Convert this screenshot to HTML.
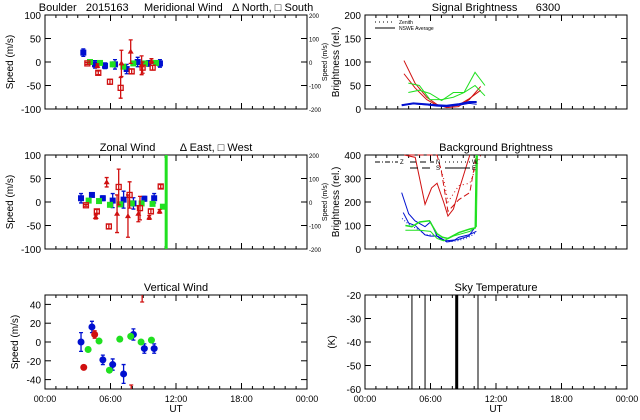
<!DOCTYPE html>
<html><head><meta charset="utf-8">
<style>
html,body{margin:0;padding:0;background:#fff;}
svg{display:block;font-family:"Liberation Sans",sans-serif;}
svg text{white-space:pre;}
</style></head>
<body>
<svg id="chart" width="640" height="420" viewBox="0 0 640 420" xmlns="http://www.w3.org/2000/svg" xml:space="preserve"></svg>
<script>
// ---- Data ----
const timeTicks = ["00:00","06:00","12:00","18:00","00:00"];
const merBlueT = [3.51,4.58,5.5,6.41,7.48,8.49,9.46,10.53];
const merBlueV = [20,-5,-8,-5,-15,0,-3,-3];
const merBlueE = [8,8,6,10,10,10,6,8];
const merGreenT = [4.12,5.04,6.2,7.17,8.09,9.16,10.17];
const merGreenV = [0,-2,-5,-10,-3,-3,-2];
const merRedSqT = [3.88,4.88,5.95,6.93,7.94,8.94,9.86];
const merRedSqV = [-3,-23,-42,-55,-20,-12,-12];
const merRedSqE = [2,4,5,22,5,12,5];
const merRedTrT = [4.8,7.0,7.85,8.85,9.75];
const merRedTrV = [-8,-3,22,-7,2];
const merRedTrE = [4,28,25,20,5];

const zonBlueT = [3.3,4.3,5.3,6.2,7.2,8.1,9.1,10.0];
const zonBlueV = [8,15,8,3,5,-3,7,8];
const zonBlueE = [10,4,5,15,18,12,5,10];
const zonGreenT = [4.0,4.95,5.95,6.9,7.95,8.85,9.85,10.8];
const zonGreenV = [3,2,-6,-5,-3,-3,-4,-10];
const zonRedSqT = [3.75,4.75,5.85,6.75,7.75,8.7,9.7,10.6];
const zonRedSqV = [-7,-20,-52,32,15,-13,-20,33];
const zonRedSqE = [2,4,5,38,28,25,5,4];
const zonRedTrT = [4.65,5.65,6.6,7.6,8.55,9.55,10.5];
const zonRedTrV = [-32,42,-25,-30,-25,-33,-20];
const zonRedTrE = [4,10,40,45,17,4,4];
const zonGreenLineT = [11.1];

const verBlueT = [3.3,4.3,5.3,6.2,7.2,8.1,9.1,10.0];
const verBlueV = [0,16,-19,-24,-34,8,-7,-7];
const verBlueE = [10,6,5,6,10,6,5,5];
const verRedT = [3.55,4.55];
const verRedV = [-27,8];
const verRedE = [1,4];
const verGreenT = [3.95,4.95,5.9,6.85,7.85,8.8,9.75];
const verGreenV = [-8,1,-30,3,6,0,2];

const sigT = [3.57,4.58,5.65,6.57,7.48,8.55,9.55,10.6];
const sigRed1 = [103,55,25,10,3,5,20,48];
const sigRed2 = [75,45,20,8,5,8,22,40];
const sigGT = [3.97,4.98,5.95,7.02,8.09,9.07,10.08,10.99];
const sigGreen1 = [35,40,33,18,35,35,78,50];
const sigGreen2 = [55,50,20,20,25,35,50,28];
const sigBT = [3.36,4.43,5.5,6.57,7.48,8.55,9.55,10.23];
const sigBlue1 = [8,12,10,8,7,10,15,15];
const sigBlue2 = [9,11,9,6,5,8,12,10];

const bgBlue1T = [3.36,4.0,4.58,5.5,6.0,6.6,7.0,7.5,8.1,8.6,9.5,10.2];
const bgBlue1 = [240,150,120,95,115,55,45,30,35,50,60,75];
const bgBlue2T = [3.5,4.0,4.6,5.5,6.0,6.6,7.0,7.5,8.5,9.5,10.2];
const bgBlue2 = [155,110,100,60,55,55,40,35,40,55,100];
const bgBlue3T = [3.4,4.0,5.0,5.5,6.5,7.5,8.5,9.5,10.2];
const bgBlue3 = [130,105,80,60,60,30,35,50,70];
const bgRed1T = [3.6,4.6,5.5,6.1,6.6,7.2,7.6,8.1,8.6,9.6];
const bgRed1 = [400,390,190,260,280,200,140,170,250,400];
const bgRed2T = [4.0,5.2,6.0,6.6,7.0,7.6,8.6,9.6,10.2];
const bgRed2 = [400,400,400,400,330,160,210,240,400];
const bgRed3T = [6.6,7.2,7.6,8.6,9.6,10.2,10.6];
const bgRed3 = [400,300,200,270,280,350,400];
const bgGreen1T = [3.7,4.3,5.0,5.9,6.6,7.1,7.6,8.6,9.6,10.1,10.2];
const bgGreen1 = [100,95,115,120,65,50,45,70,85,90,400];
const bgGreen2T = [3.7,4.3,5.0,6.0,6.6,7.2,8.1,9.6,10.2,10.3];
const bgGreen2 = [80,80,80,75,45,35,55,75,95,400];

const skyLineT = [4.3,5.5,8.4,10.35];
const skyLineW = [1,1,3,1];

// ---- Drawing ----
const svg = document.getElementById('chart');
const NS = 'http://www.w3.org/2000/svg';
function el(tag, attrs, parent){
  const e = document.createElementNS(NS, tag);
  for (const k in attrs) e.setAttribute(k, attrs[k]);
  (parent||svg).appendChild(e);
  return e;
}
function txt(x,y,s,size,anchor,parent,rot){
  const t = el('text',{x:x,y:y,'font-size':size,'text-anchor':anchor||'middle',fill:'#000'},parent);
  if (rot) t.setAttribute('transform','rotate(-90 '+x+' '+y+')');
  t.textContent = s;
  return t;
}
function panel(name, L, R, T, B, ymin, ymax, yticks, title, ytitle, xlabels, right, ytOff){
  const g = el('g',{});
  
  
  const sx = h => L + (h/24)*(R-L);
  const sy = v => B - (v-ymin)/(ymax-ymin)*(B-T);
  el('rect',{x:L,y:T,width:R-L,height:B-T,fill:'none',stroke:'#000','stroke-width':1},g);
  for (let h=0; h<=24; h++){
    const len = h%6===0 ? 6 : 3;
    el('line',{x1:sx(h),x2:sx(h),y1:B,y2:B-len,stroke:'#000'},g);
    el('line',{x1:sx(h),x2:sx(h),y1:T,y2:T+len,stroke:'#000'},g);
  }
  yticks.forEach(v=>{
    el('line',{x1:L,x2:L+6,y1:sy(v),y2:sy(v),stroke:'#000'},g);
    el('line',{x1:R,x2:R-6,y1:sy(v),y2:sy(v),stroke:'#000'},g);
    const lab = txt(L-4,sy(v)+4,String(v),10,'end',g);
    
    
  });
  const tt = txt((L+R)/2,T-4,title,11,'middle',g);
  
  
  const yt = txt(L-ytOff,(T+B)/2,ytitle,10,'middle',g,true);
  
  
  if (xlabels){
    timeTicks.forEach((s,i)=>{
      const xl = txt(sx(i*6),B+13,s,9,'middle',g);
      
      
    });
    const ut = txt((L+R)/2,B+23,'UT',10,'middle',g);
    
    
  }
  if (right){
    [200,100,0,-100,-200].forEach(v=>{
      const yy = B - (v+200)/400*(B-T);
      const r = txt(R+2,yy+3,String(v),6,'start',g);
      
      
    });
    const rt = txt(R+20,(T+B)/2,'Speed (m/s)',7,'middle',g,true);
    
    
  }
  return {g,sx,sy,T,B};
}
function points(p, T_, V_, E_, color, shape, name){
  T_.forEach((t,i)=>{
    const x = p.sx(t), y = p.sy(V_[i]);
    if (E_){
      const e = E_[i];
      const y1 = Math.max(p.T, p.sy(V_[i]+e)), y2 = Math.min(p.B, p.sy(V_[i]-e));
      const eb = el('path',{d:`M${x},${y1}V${y2}M${x-2},${y1}H${x+2}M${x-2},${y2}H${x+2}`,stroke:color,'stroke-width':1.3,fill:'none'},p.g);
      
      
    }
    let m;
    if (shape==='sq') m = el('rect',{x:x-2.5,y:y-2.5,width:5,height:5,fill:'none',stroke:color,'stroke-width':1.3},p.g);
    else if (shape==='fsq') m = el('rect',{x:x-3,y:y-3,width:6,height:6,fill:color},p.g);
    else if (shape==='tri') m = el('path',{d:`M${x},${y-3}L${x+3},${y+2}L${x-3},${y+2}Z`,fill:color},p.g);
    else m = el('circle',{cx:x,cy:y,r:3.5,fill:color},p.g);
    
    
  });
}
function line(p, T_, V_, color, name, dash, w){
  const pts = T_.map((t,i)=>p.sx(t)+','+Math.max(p.T,Math.min(p.B,p.sy(V_[i])))).join(' ');
  const l = el('polyline',{points:pts,fill:'none',stroke:color,'stroke-width':w||1},p.g);
  if (dash) l.setAttribute('stroke-dasharray',dash);
  
  
}
const RED='#d01010', BLUE='#0010d0', GREEN='#20e020';

// Meridional
const p1 = panel('meridional-wind-panel',45,307,15,109,-100,100,[100,50,0,-50,-100],
  'Boulder   2015163     Meridional Wind   \u0394 North, \u25A1 South','Speed (m/s)',false,true,32);
points(p1,merBlueT,merBlueV,merBlueE,BLUE,'fsq','meridional-blue-point');
points(p1,merGreenT,merGreenV,null,GREEN,'fsq','meridional-green-point');
points(p1,merRedSqT,merRedSqV,merRedSqE,RED,'sq','meridional-red-south');
points(p1,merRedTrT,merRedTrV,merRedTrE,RED,'tri','meridional-red-north');

// Zonal
const p2 = panel('zonal-wind-panel',45,307,155,249,-100,100,[100,50,0,-50,-100],
  'Zonal Wind        \u0394 East, \u25A1 West','Speed (m/s)',false,true,32);
zonGreenLineT.forEach(t=>{
  const gl = el('line',{x1:p2.sx(t),x2:p2.sx(t),y1:155,y2:249,stroke:GREEN,'stroke-width':3},p2.g);
  
  
});
points(p2,zonBlueT,zonBlueV,zonBlueE,BLUE,'fsq','zonal-blue-point');
points(p2,zonGreenT,zonGreenV,null,GREEN,'fsq','zonal-green-point');
points(p2,zonRedSqT,zonRedSqV,zonRedSqE,RED,'sq','zonal-red-west');
points(p2,zonRedTrT,zonRedTrV,zonRedTrE,RED,'tri','zonal-red-east');

// Vertical
const p3 = panel('vertical-wind-panel',45,307,295,389,-50,50,[40,20,0,-20,-40],
  'Vertical Wind','Speed (m/s)',true,false,27);
points(p3,verBlueT,verBlueV,verBlueE,BLUE,'dot','vertical-blue-point');
points(p3,verRedT,verRedV,verRedE,RED,'dot','vertical-red-point');
points(p3,verGreenT,verGreenV,null,GREEN,'dot','vertical-green-point');
const eb1 = el('path',{d:`M${p3.sx(7.9)},389V385M${p3.sx(7.9)-2},385H${p3.sx(7.9)+2}M${p3.sx(8.9)},295V302M${p3.sx(8.9)-2},302H${p3.sx(8.9)+2}`,stroke:RED,'stroke-width':1.3},p3.g);



// Signal brightness
const p4 = panel('signal-brightness-panel',365,627,15,109,0,200,[200,150,100,50,0],
  'Signal Brightness      6300','Brightness (rel.)',false,false,26);
line(p4,sigT,sigRed1,RED,'signal-red-line');
line(p4,sigT,sigRed2,RED,'signal-red-line');
line(p4,sigGT,sigGreen1,GREEN,'signal-green-line');
line(p4,sigGT,sigGreen2,GREEN,'signal-green-line');
line(p4,sigBT,sigBlue1,BLUE,'signal-blue-line',null,2);
line(p4,sigBT,sigBlue2,BLUE,'signal-blue-line');
const lg = el('g',{},p4.g);


el('line',{x1:375,x2:395,y1:22,y2:22,stroke:'#000','stroke-dasharray':'1,3'},lg);
el('line',{x1:375,x2:395,y1:28,y2:28,stroke:'#000'},lg);
txt(399,24,'Zenith',5,'start',lg);
txt(399,30,'NSWE Average',5,'start',lg);

// Background brightness
const p5 = panel('background-brightness-panel',365,627,155,249,0,400,[400,300,200,100,0],
  'Background Brightness','Brightness (rel.)',false,false,26);
line(p5,bgRed1T,bgRed1,RED,'background-red-line');
line(p5,bgRed2T,bgRed2,RED,'background-red-line','6,3');
line(p5,bgRed3T,bgRed3,RED,'background-red-line','1,3');
line(p5,bgBlue1T,bgBlue1,BLUE,'background-blue-line');
line(p5,bgBlue2T,bgBlue2,BLUE,'background-blue-line');
line(p5,bgBlue3T,bgBlue3,BLUE,'background-blue-line','1,2');
line(p5,bgGreen1T,bgGreen1,GREEN,'background-green-line',null,1.5);
line(p5,bgGreen2T,bgGreen2,GREEN,'background-green-line');
const lg2 = el('g',{},p5.g);


el('line',{x1:375,x2:398,y1:162,y2:162,stroke:'#000','stroke-dasharray':'5,2,1,2'},lg2);
txt(400,164,'Z',6,'start',lg2);
el('line',{x1:410,x2:434,y1:162,y2:162,stroke:'#000','stroke-dasharray':'6,4'},lg2);
txt(436,164,'N',6,'start',lg2);
el('line',{x1:410,x2:434,y1:168,y2:168,stroke:'#000','stroke-dasharray':'8,4'},lg2);
txt(436,170,'S',6,'start',lg2);
el('line',{x1:445,x2:470,y1:162,y2:162,stroke:'#000','stroke-dasharray':'1,3'},lg2);
txt(472,164,'W',6,'start',lg2);
el('line',{x1:445,x2:470,y1:168,y2:168,stroke:'#000'},lg2);
txt(472,170,'E',6,'start',lg2);

// Sky temperature
const p6 = panel('sky-temperature-panel',365,627,295,389,-60,-20,[-20,-30,-40,-50,-60],
  'Sky Temperature','(K)',true,false,30);
skyLineT.forEach((t,i)=>{
  const sl = el('line',{x1:p6.sx(t),x2:p6.sx(t),y1:295,y2:389,stroke:'#000','stroke-width':skyLineW[i]},p6.g);
  
  
});
</script>
</body></html>
